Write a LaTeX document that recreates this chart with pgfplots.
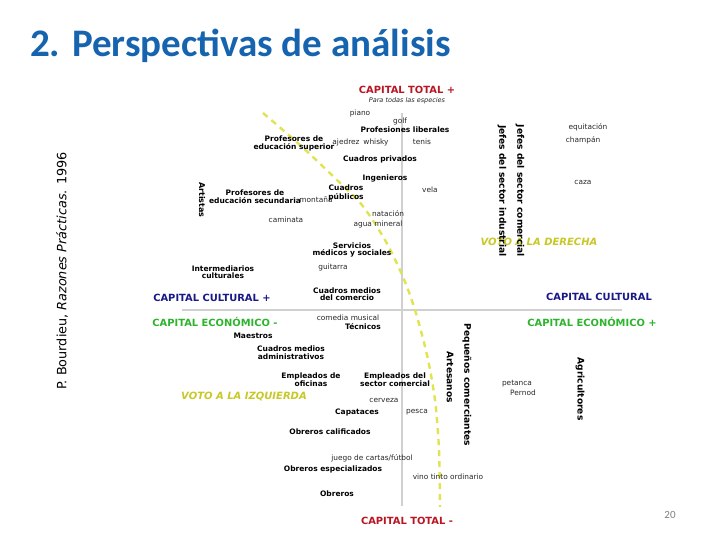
\documentclass[border=0pt]{standalone}
\usepackage{pgfplots}
\pgfplotsset{compat=1.18}
\usepackage{fontspec}
\setmainfont{DejaVu Sans}
\newfontfamily\titlefont{Carlito}
\definecolor{titleblue}{RGB}{22,100,176}
\definecolor{capred}{RGB}{185,22,35}
\definecolor{capnavy}{RGB}{25,25,135}
\definecolor{capgreen}{RGB}{45,180,45}
\definecolor{voteyellow}{RGB}{200,200,40}
\definecolor{dashyellow}{RGB}{225,228,80}
\definecolor{axgray}{RGB}{208,208,208}
\definecolor{txt}{RGB}{40,40,40}
\begin{document}
\begin{tikzpicture}
\begin{axis}[
  scale only axis, width=720pt, height=540pt,
  xmin=0, xmax=720, ymin=0, ymax=540, y dir=reverse,
  axis lines=none, clip=false,
  axis background/.style={fill=white},
  lbl/.style={only marks, mark=*, mark size=0pt, mark options={draw=none,fill=none},
    nodes near coords, point meta=explicit symbolic,
    every node near coord/.append style={anchor=center, inner sep=0pt}},
]
% axes of the space
\addplot[axgray, line width=2pt] coordinates {(402,113) (402,506)};
\addplot[axgray, line width=1.6pt] coordinates {(182,310) (622,310)};
% voting boundary
\addplot[dashyellow, line width=2.4pt, dash pattern=on 6pt off 5pt, smooth] coordinates {
(263,113) (300,145) (337,180) (362,205) (385,240) (403,277) (415,310) (427,355) (435,400) (439,450) (440,507)};

% headers
\addplot[lbl, every node near coord/.append style={font=\fontsize{9.9}{10}\selectfont\bfseries, text=capred}]
  table[col sep=semicolon, meta=label] {
x;y;label
407;90;CAPITAL TOTAL +
407;521;CAPITAL TOTAL -
};
\addplot[lbl, every node near coord/.append style={font=\fontsize{9.9}{10}\selectfont\bfseries, text=capnavy}]
  table[col sep=semicolon, meta=label] {
x;y;label
212;298;CAPITAL CULTURAL +
599;297;CAPITAL CULTURAL
};
\addplot[lbl, every node near coord/.append style={font=\fontsize{9.9}{10}\selectfont\bfseries, text=capgreen}]
  table[col sep=semicolon, meta=label] {
x;y;label
215;322;CAPITAL ECONÓMICO -
592;322;CAPITAL ECONÓMICO +
};
\addplot[lbl, every node near coord/.append style={font=\fontsize{10}{10}\selectfont\bfseries\itshape, text=voteyellow}]
  table[col sep=semicolon, meta=label] {
x;y;label
539;242;VOTO A LA DERECHA
244;397;VOTO A LA IZQUIERDA
};
\addplot[lbl, every node near coord/.append style={font=\fontsize{6.5}{7}\selectfont\itshape, text=txt}]
  table[col sep=semicolon, meta=label] {
x;y;label
407;101;Para todas las especies
};

% practices
\addplot[lbl, every node near coord/.append style={font=\fontsize{7.4}{8}\selectfont, text=txt}]
  table[col sep=semicolon, meta=label] {
x;y;label
360;113;piano
400;121;golf
346;142;ajedrez
376;142;whisky
422;142;tenis
430;190;vela
316;200;montaña
286;220;caminata
388;214;natación
378;224;agua mineral
333;267;guitarra
348;318;comedia musical
384;400;cerveza
417;412;pesca
372;458;juego de cartas/fútbol
448;477;vino tinto ordinario
588;127;equitación
583;140;champán
583;182;caza
517;384;petanca
523;393;Pernod
};

% occupations
\addplot[lbl, every node near coord/.append style={font=\fontsize{7.5}{8}\selectfont\bfseries, text=black}]
  table[col sep=semicolon, meta=label] {
x;y;label
405;130;Profesiones liberales
294;139;Profesores de
294;147;educación superior
380;159;Cuadros privados
385;178;Ingenieros
346;188;Cuadros
346;197;públicos
255;193;Profesores de
255;201;educación secundaria
352;246;Servicios
352;253;médicos y sociales
223;269;Intermediarios
223;276;culturales
347;291;Cuadros medios
347;298;del comercio
363;327;Técnicos
253;336;Maestros
291;349;Cuadros medios
291;357;administrativos
311;376;Empleados de
311;384;oficinas
395;376;Empleados del
395;384;sector comercial
357;412;Capataces
330;432;Obreros calificados
333;469;Obreros especializados
337;494;Obreros
};

% rotated occupations
\addplot[lbl, every node near coord/.append style={font=\fontsize{8}{8}\selectfont\bfseries, text=black, rotate=-90}]
  table[col sep=semicolon, meta=label] {
x;y;label
202;200;Artistas
};
\addplot[lbl, every node near coord/.append style={font=\fontsize{9.1}{9}\selectfont\bfseries, text=black, rotate=-90}]
  table[col sep=semicolon, meta=label] {
x;y;label
502;191;Jefes del sector industrial
520;191;Jefes del sector comercial
467;385;Pequeños comerciantes
450;377;Artesanos
580;389;Agricultores
};

% slide texts
\node[anchor=base west, inner sep=0pt, text=titleblue, font=\titlefont\fontsize{39}{42}\selectfont\bfseries]
  at (axis cs:30,57) {2. Perspectivas de análisis};
\node[rotate=90, inner sep=0pt, font=\fontsize{12.8}{14}\selectfont]
  at (axis cs:62,271) {P. Bourdieu, \textit{Razones Prácticas}. 1996};
\node[inner sep=0pt, text=gray, font=\titlefont\fontsize{11}{13}\selectfont]
  at (axis cs:670,515) {20};
\end{axis}
\end{tikzpicture}
\end{document}
